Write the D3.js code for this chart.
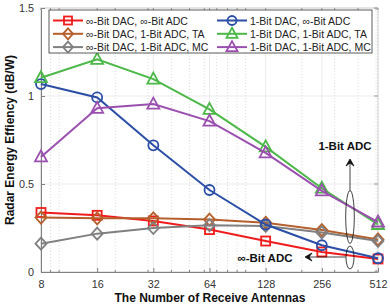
<!DOCTYPE html>
<html><head><meta charset="utf-8">
<script src="https://cdn.jsdelivr.net/npm/d3@7"></script>
<style>body{margin:0;background:#fff}svg{display:block;font-family:"Liberation Sans",Arial,sans-serif}</style>
</head><body><svg id="c" width="390" height="308"></svg>
<script>
const antennas = [8, 16, 32, 64, 128, 256, 512];
const xTickLabels = ["8", "16", "32", "64", "128", "256", "512"];
const minorTicks = [9, 10, 20, 30, 40, 50, 60, 70, 80, 90, 100, 200, 300, 400, 500];
const yTicks = [0, 0.5, 1, 1.5];
const yTickLabels = ["0", "0.5", "1", "1.5"];
const seriesNames = ["∞-Bit DAC, ∞-Bit ADC", "∞-Bit DAC, 1-Bit ADC, TA", "∞-Bit DAC, 1-Bit ADC, MC",
  "1-Bit DAC, ∞-Bit ADC", "1-Bit DAC, 1-Bit ADC, TA", "1-Bit DAC, 1-Bit ADC, MC"];
const infInf = [0.338, 0.322, 0.29, 0.241, 0.176, 0.114, 0.074];
const infOneTA = [0.309, 0.305, 0.305, 0.298, 0.28, 0.238, 0.185];
const infOneMC = [0.161, 0.218, 0.25, 0.266, 0.262, 0.225, 0.176];
const oneInf = [1.068, 0.992, 0.72, 0.466, 0.27, 0.152, 0.078];
const oneOneTA = [1.104, 1.208, 1.096, 0.924, 0.711, 0.476, 0.27];
const oneOneMC = [0.654, 0.93, 0.954, 0.857, 0.677, 0.461, 0.284];
const seriesValues = [infInf, infOneTA, infOneMC, oneInf, oneOneTA, oneOneMC];
const colors = ["#f01c1c", "#b5602c", "#808080", "#2b4ea6", "#4cb848", "#9b50b0"];
const markers = ["square", "diamond", "diamond", "circle", "triangle", "triangle"];

const svg = d3.select("#c");
const L = 41, R = 378, T = 8, B = 272;
const x = d3.scaleLog().base(2).domain([8, 512]).range([L, R]);
const y = d3.scaleLinear().domain([0, 1.5]).range([B, T]);

// grid
const g = svg.append("g");
g.selectAll(".mg").data(minorTicks).join("line")
  .attr("x1", d => x(d)).attr("x2", d => x(d)).attr("y1", T).attr("y2", B)
  .attr("stroke", "#d4d4d4").attr("stroke-width", 0.8).attr("stroke-dasharray", "1,2");
g.selectAll(".gx").data(antennas.slice(1, -1)).join("line")
  .attr("x1", d => x(d)).attr("x2", d => x(d)).attr("y1", T).attr("y2", B)
  .attr("stroke", "#ebebeb").attr("stroke-width", 1);
g.selectAll(".gy").data(yTicks.slice(1, -1)).join("line")
  .attr("x1", L).attr("x2", R).attr("y1", d => y(d)).attr("y2", d => y(d))
  .attr("stroke", "#ebebeb").attr("stroke-width", 1);

// box
svg.append("rect").attr("x", L).attr("y", T).attr("width", R - L).attr("height", B - T)
  .attr("fill", "none").attr("stroke", "#bdbdbd").attr("stroke-width", 0.8);

// axes
const xAxis = d3.axisBottom(x).tickValues(antennas).tickFormat((d, i) => xTickLabels[i]).tickSizeInner(-4).tickSizeOuter(0).tickPadding(8);
const xa = svg.append("g").attr("transform", `translate(0,${B})`).call(xAxis);
const yAxis = d3.axisLeft(y).tickValues(yTicks).tickFormat((d, i) => yTickLabels[i]).tickSizeInner(-4).tickSizeOuter(0).tickPadding(7);
const ya = svg.append("g").attr("transform", `translate(${L},0)`).call(yAxis);
[xa, ya].forEach(a => {
  a.select(".domain").attr("stroke", "#808080").attr("stroke-width", 1);
  a.selectAll(".tick line").attr("stroke", "#808080");
  a.selectAll("text").attr("fill", "#333").attr("font-size", 10.8).attr("font-family", "Liberation Sans, Arial, sans-serif");
});
// minor ticks bottom/top, major ticks top/right
svg.append("g").selectAll("line").data(minorTicks).join("line")
  .attr("x1", d => x(d)).attr("x2", d => x(d)).attr("y1", B).attr("y2", B - 2).attr("stroke", "#808080");
svg.append("g").selectAll("line").data(minorTicks.concat(antennas)).join("line")
  .attr("x1", d => x(d)).attr("x2", d => x(d)).attr("y1", T).attr("y2", T + 2).attr("stroke", "#999");
svg.append("g").selectAll("line").data(yTicks).join("line")
  .attr("x1", R).attr("x2", R - 4).attr("y1", d => y(d)).attr("y2", d => y(d)).attr("stroke", "#999");

function drawMarker(sel, type, color, size) {
  const s = size;
  if (type === "square") sel.append("rect").attr("x", -s / 2).attr("y", -s / 2).attr("width", s).attr("height", s);
  else if (type === "circle") sel.append("circle").attr("r", s / 2 + 0.5);
  else if (type === "diamond") sel.append("path").attr("d", `M0,${-s / 2 - 1.5}L${s / 2 + 1},0L0,${s / 2 + 1.5}L${-s / 2 - 1},0Z`);
  else sel.append("path").attr("d", `M0,${-s / 2 - 2}L${s / 2 + 1.5},${s / 2}L${-s / 2 - 1.5},${s / 2}Z`);
  sel.selectAll("*").attr("fill", "none").attr("stroke", color).attr("stroke-width", 1.8);
}

const line = d3.line().x((d, i) => x(antennas[i])).y(d => y(d));
seriesValues.forEach((vals, k) => {
  const sg = svg.append("g");
  sg.append("path").attr("d", line(vals)).attr("fill", "none").attr("stroke", colors[k]).attr("stroke-width", 2);
  vals.forEach((v, i) => {
    const m = sg.append("g").attr("transform", `translate(${x(antennas[i])},${y(v)})`);
    drawMarker(m, markers[k], colors[k], 9);
  });
});

// annotations
const ann = svg.append("g").attr("stroke", "#111").attr("fill", "none").attr("stroke-width", 0.8);
ann.append("ellipse").attr("cx", 350).attr("cy", 217).attr("rx", 4.3).attr("ry", 26.5);
ann.append("ellipse").attr("cx", 350).attr("cy", 257.5).attr("rx", 4).attr("ry", 11.5);
ann.append("line").attr("x1", 350).attr("y1", 190.5).attr("x2", 350).attr("y2", 161);
ann.append("path").attr("d", "M346,166L350,159L354,166L350,163Z").attr("fill", "#111");
ann.append("line").attr("x1", 346).attr("y1", 257).attr("x2", 307).attr("y2", 257);
ann.append("path").attr("d", "M312,253L305,257L312,261L309,257Z").attr("fill", "#111");
svg.append("text").attr("x", 345).attr("y", 150).attr("text-anchor", "middle").attr("font-size", 11.5).attr("font-weight", "bold").attr("fill", "#111").text("1-Bit ADC");
svg.append("text").attr("x", 265).attr("y", 261.5).attr("text-anchor", "middle").attr("font-size", 11.5).attr("font-weight", "bold").attr("fill", "#111").text("∞-Bit ADC");

// legend
const lg = svg.append("g");
lg.append("rect").attr("x", 49).attr("y", 10).attr("width", 323).attr("height", 43)
  .attr("fill", "#fff").attr("stroke", "#333").attr("stroke-width", 0.8);
seriesNames.forEach((name, k) => {
  const col = Math.floor(k / 3), row = k % 3;
  const x0 = col === 0 ? 53 : 217, yy = 20.5 + row * 13.3;
  lg.append("line").attr("x1", x0).attr("x2", x0 + 30).attr("y1", yy).attr("y2", yy).attr("stroke", colors[k]).attr("stroke-width", 2);
  const m = lg.append("g").attr("transform", `translate(${x0 + 15},${yy})`);
  drawMarker(m, markers[k], colors[k], 8);
  lg.append("text").attr("x", x0 + 33).attr("y", yy + 4).attr("font-size", 10.5).attr("fill", "#222").text(name);
});

// axis titles
svg.append("text").attr("x", 210).attr("y", 302).attr("text-anchor", "middle").attr("font-size", 12).attr("font-weight", "bold").attr("fill", "#111").text("The Number of Receive Antennas");
svg.append("text").attr("transform", "translate(14,140) rotate(-90)").attr("text-anchor", "middle").attr("font-size", 12).attr("font-weight", "bold").attr("fill", "#111").text("Radar Energy Effiency (dB/W)");
</script></body></html>
